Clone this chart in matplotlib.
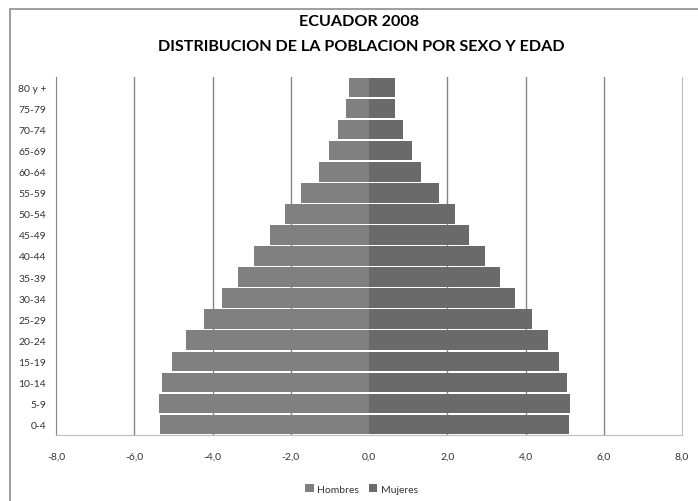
import matplotlib
matplotlib.use('Agg')
import matplotlib.pyplot as plt
from matplotlib.patches import Rectangle

# age groups, bottom to top
grupos = ['0-4', '5-9', '10-14', '15-19', '20-24', '25-29', '30-34', '35-39',
          '40-44', '45-49', '50-54', '55-59', '60-64', '65-69', '70-74',
          '75-79', '80 y +']
# percent of population
hombres = [5.33, 5.36, 5.28, 5.03, 4.69, 4.21, 3.75, 3.34, 2.93, 2.52,
           2.14, 1.73, 1.27, 1.01, 0.78, 0.58, 0.52]
mujeres = [5.11, 5.13, 5.05, 4.85, 4.57, 4.16, 3.72, 3.34, 2.96, 2.55,
           2.19, 1.78, 1.32, 1.09, 0.86, 0.66, 0.66]
xticks = [-8, -6, -4, -2, 0, 2, 4, 6, 8]

plt.rcParams['font.family'] = ['Lato', 'DejaVu Sans']

fig = plt.figure(figsize=(6.98, 5.02), dpi=100)
ax = fig.add_axes([56 / 698, 1 - 436 / 502, 626 / 698, 358 / 502])

# chart border (only top and left visible in the crop)
fig.patches.append(Rectangle((10 / 698, -0.1), 1.2, 1 - 10 / 502 + 0.1,
                             transform=fig.transFigure, fill=False,
                             edgecolor='#8c8c8c', linewidth=1.2))

y = range(len(grupos))
ax.barh(y, [-v for v in hombres], height=0.93, color='#808080', label='Hombres', zorder=3)
ax.barh(y, mujeres, height=0.93, color='#6a6a6a', label='Mujeres', zorder=3)

ax.set_xlim(-8, 8)
ax.set_ylim(-0.5, len(grupos) - 0.5)
ax.set_xticks(xticks)
ax.set_xticklabels([f"{v:.1f}".replace('.', ',') for v in xticks])
ax.set_yticks(list(y))
ax.set_yticklabels(grupos)
ax.tick_params(length=0, labelsize=7.5, colors='#333333')
ax.tick_params(axis='x', pad=12)
ax.tick_params(axis='y', pad=7)

for v in xticks[1:-1]:
    if v != 0:
        ax.axvline(v, color='#858585', linewidth=1, zorder=1)

ax.spines['top'].set_visible(False)
ax.spines['left'].set_color('#858585')
ax.spines['right'].set_color('#bfbfbf')
ax.spines['bottom'].set_color('#bfbfbf')

fig.text(0.515, 1 - 22 / 502, 'ECUADOR 2008', ha='center', va='center',
         fontsize=11.6, fontweight='bold')
fig.text(0.517, 1 - 47 / 502, 'DISTRIBUCION DE LA POBLACION POR SEXO Y EDAD',
         ha='center', va='center', fontsize=11.6, fontweight='bold')

fig.legend(loc='center', bbox_to_anchor=(0.518, 1 - 490 / 502), ncol=2,
           frameon=False, fontsize=7.5, handlelength=0.8, handleheight=0.8,
           handletextpad=0.3, columnspacing=1.0, labelcolor='#333333')

fig.savefig('out.png', dpi=100)
